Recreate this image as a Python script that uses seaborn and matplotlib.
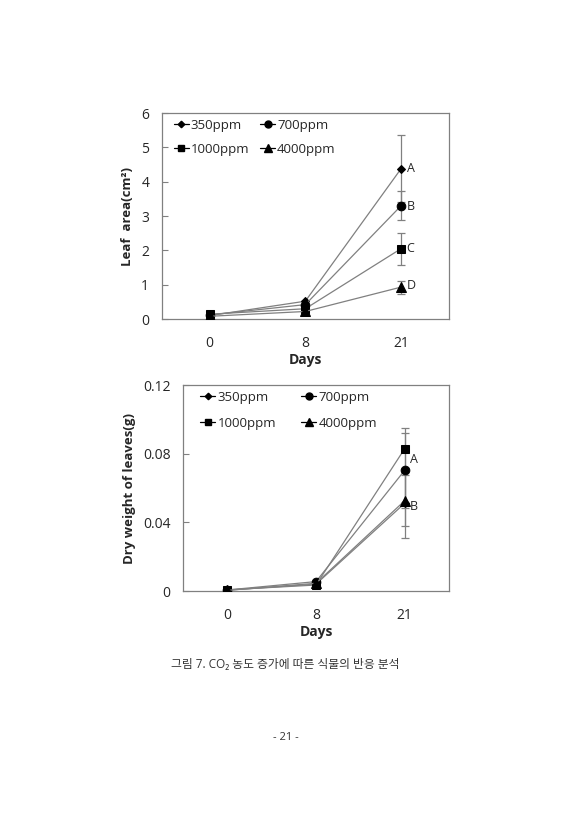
import matplotlib
matplotlib.use('Agg')
import matplotlib.pyplot as plt
import numpy as np
import pandas as pd
import seaborn as sb

days = ['0', '8', '21']
groups = ['350ppm', '700ppm', '1000ppm', '4000ppm']
markers = {'350ppm': 'D', '700ppm': 'o', '1000ppm': 's', '4000ppm': '^'}
msize = {'350ppm': 4.5, '700ppm': 6.2, '1000ppm': 6.0, '4000ppm': 6.5}

# leaf area (cm2)
area_350 = [0.10, 0.52, 4.38]
area_700 = [0.12, 0.42, 3.30]
area_1000 = [0.14, 0.30, 2.05]
area_4000 = [0.08, 0.22, 0.93]
area_err_350 = [0.0, 0.0, 0.97]
area_err_700 = [0.0, 0.0, 0.42]
area_err_1000 = [0.0, 0.0, 0.47]
area_err_4000 = [0.0, 0.0, 0.19]
area_letters = ['A', 'B', 'C', 'D']
area_letter_y = [4.38, 3.28, 2.05, 0.98]

# dry weight of leaves (g)
dw_350 = [0.0005, 0.0040, 0.0511]
dw_700 = [0.0006, 0.0055, 0.0703]
dw_1000 = [0.0007, 0.0035, 0.0829]
dw_4000 = [0.0004, 0.0045, 0.0526]
dw_err_350 = [0.0, 0.0, 0.020]
dw_err_700 = [0.0, 0.0, 0.022]
dw_err_1000 = [0.0, 0.0, 0.012]
dw_err_4000 = [0.0, 0.0, 0.015]
dw_letters = ['A', 'B']
dw_letter_y = [0.0767, 0.0495]

sb.set_style('white')
plt.rcParams['font.family'] = ['Open Sans', 'Noto Sans CJK KR', 'DejaVu Sans']
plt.rcParams['axes.unicode_minus'] = False

grey = '#808080'


def make_df(vals):
    rows = []
    for g, v in zip(groups, vals):
        for i, d in enumerate(days):
            rows.append({'pos': i, 'day': d, 'group': g, 'value': v[i]})
    return pd.DataFrame(rows)


def draw(ax, vals, errs, ylim, yticks, ylabels, ylabel, letters, letter_y,
         leg_x, leg_y, colsp, labsp):
    df = make_df(vals)
    for g in groups:
        sub = df[df['group'] == g]
        sb.lineplot(data=sub, x='pos', y='value', ax=ax, color=grey, lw=0.9,
                    marker=markers[g], markersize=msize[g], markerfacecolor='black',
                    markeredgecolor='black', legend=False, zorder=3)
    for g, e in zip(groups, errs):
        sub = df[df['group'] == g]
        ax.errorbar(sub['pos'], sub['value'], yerr=e, fmt='none', ecolor=grey,
                    elinewidth=0.9, capsize=3, capthick=0.9, zorder=2)
    for t, y in zip(letters, letter_y):
        ax.annotate(t, (len(days) - 1, y), xytext=(4, 0), textcoords='offset points',
                    fontsize=9, va='center', ha='left')
    ax.set_xlim(-0.5, len(days) - 0.5)
    ax.set_ylim(*ylim)
    ax.set_xticks(np.arange(len(days)))
    ax.set_xticklabels(days)
    ax.set_xticks(np.arange(len(days) - 1) + 0.5, minor=True)
    ax.set_yticks(yticks)
    ax.set_yticklabels(ylabels)
    ax.tick_params(axis='x', which='major', length=0, pad=12, labelsize=10)
    ax.tick_params(axis='x', which='minor', direction='in', length=4, color=grey, width=0.8)
    ax.tick_params(axis='y', direction='in', length=4, color=grey, width=0.8, pad=9,
                   labelsize=10, left=True)
    for s in ax.spines.values():
        s.set_color(grey)
        s.set_linewidth(0.9)
    ax.set_xlabel('Days', fontweight='bold', fontsize=10, labelpad=2)
    ax.set_ylabel(ylabel, fontweight='bold', fontsize=9.5, labelpad=5)

    handles = []
    for g in ['350ppm', '1000ppm', '700ppm', '4000ppm']:
        h, = ax.plot([], [], color='black', lw=0.9, marker=markers[g],
                     markersize=msize[g] - 1.2)
        handles.append((h, g))
    ax.legend([h for h, _ in handles], [g for _, g in handles], ncol=2, frameon=False,
              loc='upper left', bbox_to_anchor=(leg_x, leg_y), fontsize=9.5,
              handlelength=1.15, handletextpad=0.15, columnspacing=colsp, labelspacing=labsp)


fig = plt.figure(figsize=(5.71, 8.40), dpi=100)
ax1 = fig.add_axes([0.2832, 0.6202, 0.5031, 0.2452])
ax2 = fig.add_axes([0.3205, 0.2964, 0.4658, 0.2452])

draw(ax1, [area_350, area_700, area_1000, area_4000],
     [area_err_350, area_err_700, area_err_1000, area_err_4000],
     (0, 6), np.arange(0, 7), [str(i) for i in range(7)], 'Leaf  area(cm²)',
     area_letters, area_letter_y, 0.0, 1.03, 0.8, 0.85)
draw(ax2, [dw_350, dw_700, dw_1000, dw_4000],
     [dw_err_350, dw_err_700, dw_err_1000, dw_err_4000],
     (0, 0.12), [0, 0.04, 0.08, 0.12], ['0', '0.04', '0.08', '0.12'],
     'Dry weight of leaves(g)', dw_letters, dw_letter_y, 0.02, 1.03, 1.9, 1.0)

fig.text(0.5, 1 - 665 / 840, '그림 7. CO₂ 농도 증가에 따른 식물의 반응 분석',
         ha='center', va='center', fontsize=8.5, color='#333333')
fig.text(0.5, 1 - 738 / 840, '- 21 -', ha='center', va='center', fontsize=8, color='#333333')

fig.savefig('out.png', dpi=100, facecolor='white')
